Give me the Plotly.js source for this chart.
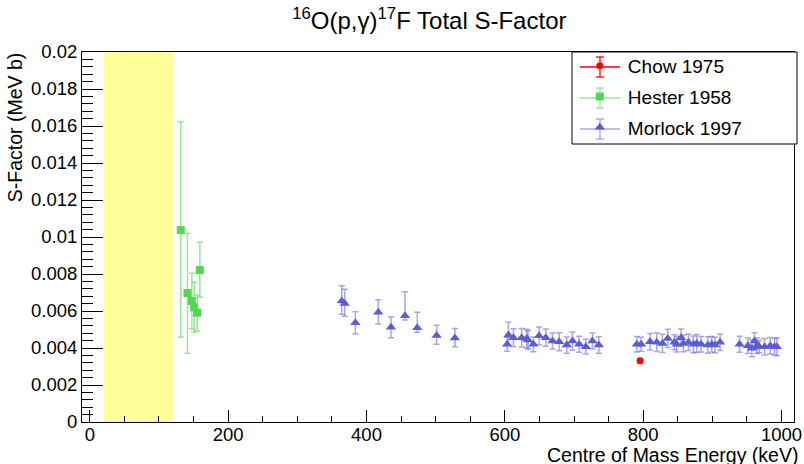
<!DOCTYPE html>
<html><head><meta charset="utf-8">
<script src="https://cdn.plot.ly/plotly-3.0.1.min.js"></script>
<style>body{margin:0;background:#fff}</style>
</head><body><div id="chart" style="width:804px;height:464px"></div>
<script>
// Chow 1975
const chowE = [795.5];
const chowS = [0.00331];
const chowErr = [0.00012];
// Hester 1958
const hesterE = [131.5, 141.2, 147.5, 150.9, 155.2, 159.1];
const hesterS = [0.01038, 0.00697, 0.00654, 0.0062, 0.00591, 0.00822];
const hesterErrUp = [0.00585, 0.00323, 0.0015, 0.00135, 0.00095, 0.00149];
const hesterErrDown = [0.00578, 0.00326, 0.0015, 0.00135, 0.00099, 0.00148];
// Morlock 1997
const morlockE = [364.2, 368.5, 383.9, 417.0, 435.4, 455.6, 473.4, 501.3, 527.8,
  603.2, 605.1, 612.4, 624.3, 631.6, 633.5, 641.3, 649.5, 659.2, 668.8, 678.5, 689.5, 697.7, 707.4, 717.0, 726.6, 735.8,
  790.7, 797.0, 809.9, 819.6, 827.8, 835.5, 845.1, 848.5, 854.8, 858.1, 865.4, 872.6, 877.5, 883.7, 893.4, 899.1, 903.9, 911.1,
  939.3, 951.3, 957.1, 960.9, 964.4, 967.7, 975.4, 983.6, 989.9, 993.3];
const morlockS = [0.00654, 0.00641, 0.00537, 0.00593, 0.00512, 0.00575, 0.0051, 0.00467, 0.00454,
  0.0042, 0.0047, 0.00456, 0.00456, 0.00452, 0.00443, 0.0042, 0.00466, 0.00456, 0.00438, 0.00434, 0.00416, 0.00438, 0.0042, 0.00407, 0.00438, 0.00416,
  0.0042, 0.0042, 0.00434, 0.00431, 0.00425, 0.00452, 0.00431, 0.0042, 0.00456, 0.00425, 0.00431, 0.0042, 0.00425, 0.0042, 0.00416, 0.0042, 0.00416, 0.00431,
  0.0042, 0.00412, 0.00398, 0.00438, 0.00412, 0.00407, 0.00407, 0.00412, 0.00407, 0.00407];
const morlockErrUp = [0.00083, 0.00076, 0.00059, 0.00068, 0.00056, 0.00129, 0.00083, 0.00056, 0.00052,
  0.00038, 0.00069, 0.00048, 0.0005, 0.0005, 0.0005, 0.0004, 0.00048, 0.00047, 0.00043, 0.00049, 0.00044, 0.00049, 0.00043, 0.0004, 0.00043, 0.00045,
  0.00042, 0.00038, 0.00045, 0.0005, 0.00049, 0.00049, 0.0004, 0.00042, 0.00047, 0.00045, 0.00045, 0.00045, 0.00048, 0.00042, 0.00045, 0.00042, 0.00042, 0.00045,
  0.00043, 0.00042, 0.00045, 0.00045, 0.00042, 0.00033, 0.00045, 0.00045, 0.00045, 0.00049];
const morlockErrDown = [0.00072, 0.0007, 0.0006, 0.00063, 0.00056, 0.00024, 0.00025, 0.00047, 0.00047,
  0.00038, 0.00054, 0.00048, 0.0005, 0.0005, 0.0005, 0.0004, 0.00048, 0.00047, 0.00043, 0.00049, 0.00044, 0.00049, 0.00043, 0.0004, 0.00043, 0.00045,
  0.00042, 0.00038, 0.00045, 0.0005, 0.00049, 0.00049, 0.0004, 0.00042, 0.00047, 0.00045, 0.00045, 0.00045, 0.00048, 0.00042, 0.00045, 0.00042, 0.00042, 0.00045,
  0.00043, 0.00042, 0.00045, 0.00045, 0.00042, 0.00033, 0.00045, 0.00045, 0.00045, 0.00049];
// Gamow window band
const bandRange = [20, 120];
// Axis ticks
const yTickVals = [0, 0.002, 0.004, 0.006, 0.008, 0.01, 0.012, 0.014, 0.016, 0.018, 0.02];
const yTickText = ['0', '0.002', '0.004', '0.006', '0.008', '0.01', '0.012', '0.014', '0.016', '0.018', '0.02'];
const xTickVals = [0, 200, 400, 600, 800, 1000];
const xTickText = ['0', '200', '400', '600', '800', '1000'];

const FONT = 'Liberation Sans, Arial, Helvetica, sans-serif';
const COLORS = {
  chow: '#ff0000', chowErr: 'rgba(255,0,0,0.6)',
  hester: '#55d455', hesterErr: 'rgba(85,212,85,0.6)',
  morlock: '#5c5cd8', morlockErr: 'rgba(92,92,216,0.55)'
};

const traces = [
  {
    x: chowE, y: chowS, name: 'Chow 1975', type: 'scatter', mode: 'markers', legendgroup: 'a',
    marker: {symbol: 'circle', size: 7, color: COLORS.chow},
    error_y: {type: 'data', array: chowErr, color: COLORS.chowErr, thickness: 1.2, width: 3}
  },
  {
    x: hesterE, y: hesterS, name: 'Hester 1958', type: 'scatter', mode: 'markers', legendgroup: 'b',
    marker: {symbol: 'square', size: 8, color: COLORS.hester},
    error_y: {type: 'data', symmetric: false, array: hesterErrUp, arrayminus: hesterErrDown, color: COLORS.hesterErr, thickness: 1.5, width: 3}
  },
  {
    x: morlockE, y: morlockS, name: 'Morlock 1997', type: 'scatter', mode: 'markers', legendgroup: 'c',
    marker: {symbol: 'triangle-up', size: 9, color: COLORS.morlock},
    error_y: {type: 'data', symmetric: false, array: morlockErrUp, arrayminus: morlockErrDown, color: COLORS.morlockErr, thickness: 1.5, width: 3}
  }
];

// legend decoration geometry (paper coords, plot area 712x370 px)
const PW = 712, PH = 370;
const px2x = p => (p - 82) / PW;
const py2y = p => (422 - p) / PH;
const legRows = [67, 98, 129];
const legCols = [COLORS.chow, COLORS.hesterErr, COLORS.morlockErr];
const legendShapes = [
  {type: 'rect', xref: 'paper', yref: 'paper', x0: px2x(572), x1: px2x(797), y0: py2y(144), y1: py2y(52),
   fillcolor: '#ffffff', line: {color: '#000', width: 1}, layer: 'above'}
];
legRows.forEach((r, i) => {
  const c = legCols[i];
  legendShapes.push({type: 'line', xref: 'paper', yref: 'paper', x0: px2x(580), x1: px2x(620), y0: py2y(r), y1: py2y(r), line: {color: c, width: 1.3}, layer: 'above'});
  legendShapes.push({type: 'line', xref: 'paper', yref: 'paper', x0: px2x(600), x1: px2x(600), y0: py2y(r - 10), y1: py2y(r + 10), line: {color: c, width: 1.3}, layer: 'above'});
  legendShapes.push({type: 'line', xref: 'paper', yref: 'paper', x0: px2x(596), x1: px2x(604), y0: py2y(r - 10), y1: py2y(r - 10), line: {color: c, width: 1.3}, layer: 'above'});
  legendShapes.push({type: 'line', xref: 'paper', yref: 'paper', x0: px2x(596), x1: px2x(604), y0: py2y(r + 10), y1: py2y(r + 10), line: {color: c, width: 1.3}, layer: 'above'});
});

const layout = {
  width: 804, height: 464,
  margin: {l: 82, r: 10, t: 52, b: 42, pad: 0},
  paper_bgcolor: '#ffffff', plot_bgcolor: '#ffffff',
  font: {family: FONT, size: 18, color: '#000'},
  title: {
    text: '<sup>16</sup>O(p,γ)<sup>17</sup>F Total S-Factor',
    font: {family: FONT, size: 24, color: '#000'},
    x: 0.534, xref: 'container', xanchor: 'center',
    y: 0.955, yref: 'container', yanchor: 'middle'
  },
  xaxis: {
    range: [-11.3, 1018], showgrid: false, zeroline: false,
    showline: true, mirror: true, linecolor: '#000', linewidth: 1,
    ticks: 'inside', ticklen: 12, tickwidth: 1, tickcolor: '#000',
    tickvals: xTickVals, ticktext: xTickText, ticklabelstandoff: -4,
    tickfont: {family: FONT, size: 18.5, color: '#000'},
    minor: {dtick: 50, ticks: 'inside', ticklen: 6, tickcolor: '#000', tickwidth: 1, showgrid: false}
  },
  yaxis: {
    range: [0, 0.02], showgrid: false, zeroline: false,
    showline: true, mirror: true, linecolor: '#000', linewidth: 1,
    ticks: 'inside', ticklen: 21, tickwidth: 1, tickcolor: '#000',
    tickvals: yTickVals, ticktext: yTickText,
    tickfont: {family: FONT, size: 18.5, color: '#000'},
    minor: {dtick: 0.0004, ticks: 'inside', ticklen: 11, tickcolor: '#000', tickwidth: 1, showgrid: false}
  },
  showlegend: true,
  legend: {
    x: 0.688, y: 1.0135, xanchor: 'left', yanchor: 'top', xref: 'paper', yref: 'paper',
    bgcolor: 'rgba(0,0,0,0)', borderwidth: 0,
    font: {family: FONT, size: 19, color: '#000'},
    itemwidth: 46, tracegroupgap: 3
  },
  shapes: [
    {type: 'rect', xref: 'x', yref: 'paper', x0: bandRange[0], x1: bandRange[1], y0: 0, y1: 1,
     fillcolor: '#ffff99', line: {width: 0}, layer: 'below'}
  ].concat(legendShapes),
  annotations: [
    {text: 'S-Factor (MeV b)', xref: 'paper', yref: 'paper', x: -0.094, y: 1.005,
     xanchor: 'center', yanchor: 'top', textangle: -90, showarrow: false,
     font: {family: FONT, size: 19.5, color: '#000'}},
    {text: 'Centre of Mass Energy (keV)', xref: 'paper', yref: 'paper', x: 1.0084, y: -0.089,
     xanchor: 'right', yanchor: 'middle', showarrow: false,
     font: {family: FONT, size: 19.5, color: '#000'}}
  ]
};

Plotly.newPlot('chart', traces, layout, {displayModeBar: false, staticPlot: true});
</script>
</body></html>
